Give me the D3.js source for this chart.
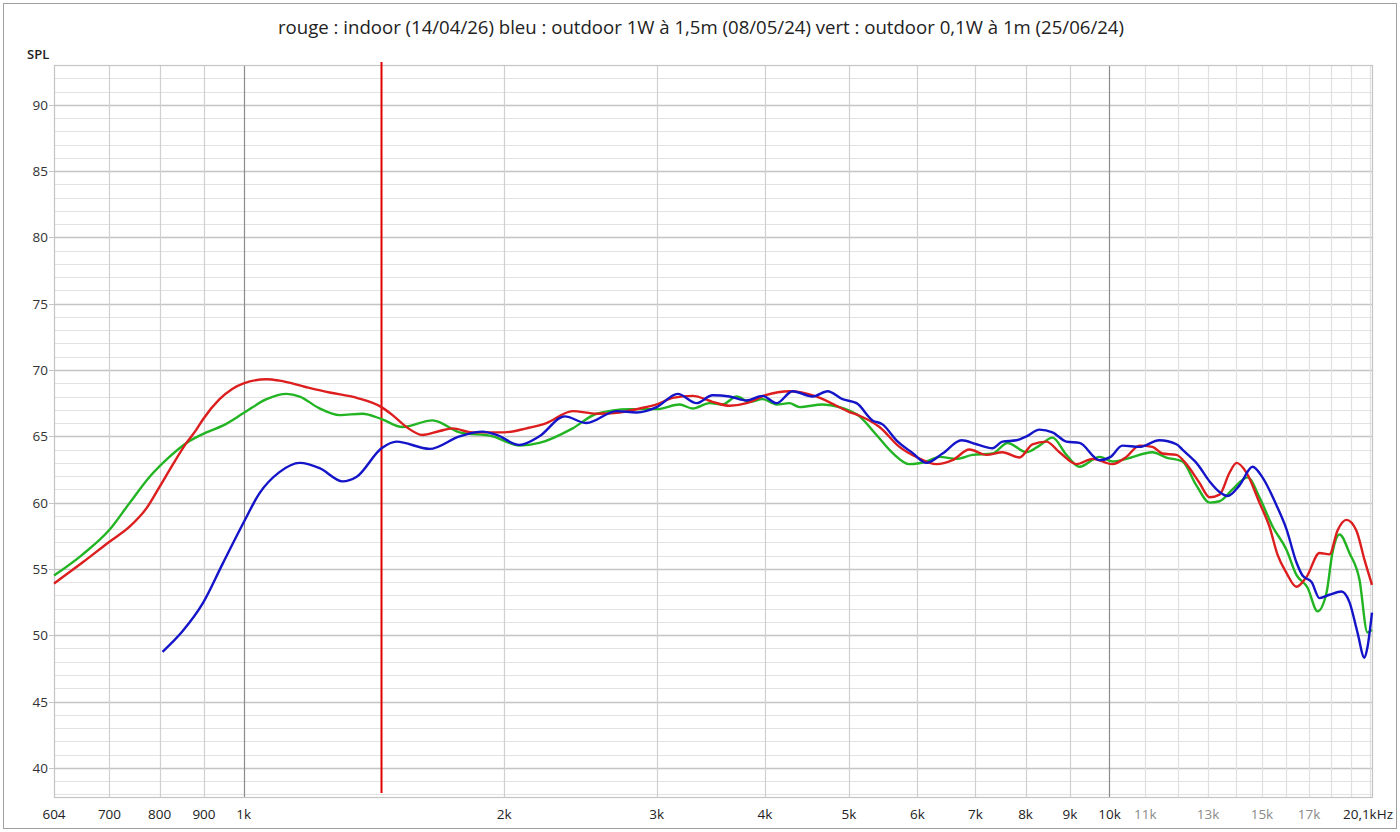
<!DOCTYPE html>
<html>
<head>
<meta charset="utf-8">
<script src="https://cdn.jsdelivr.net/npm/d3@7"></script>
<style>
  html, body { margin: 0; padding: 0; background: #fff; }
  svg { display: block; font-family: "Open Sans", "Noto Sans", sans-serif; }
</style>
</head>
<body>
<div class="vis-fr"></div>
<script>
// titre
const title = "rouge : indoor (14/04/26) bleu : outdoor 1W à 1,5m (08/05/24) vert : outdoor 0,1W à 1m (25/06/24)";

// [freq Hz, SPL dB]
const rouge = [
    [604, 53.9], [652, 55.5], [700, 57.05], [739, 58.2], [773, 59.6], [800, 61.2], [828, 62.85],
    [859, 64.5], [882, 65.5], [897, 66.25], [938, 67.8],
    [1000, 69.0], [1063, 69.3], [1100, 69.2], [1182, 68.7], [1257, 68.3], [1351, 67.9],
    [1443, 67.2], [1486, 66.6], [1542, 65.7], [1609, 65.1], [1684, 65.4], [1743, 65.6],
    [1838, 65.3], [2000, 65.3], [2122, 65.6], [2238, 66.0], [2399, 66.9], [2557, 66.7],
    [2718, 66.8], [2867, 67.1], [3000, 67.4], [3130, 67.9], [3300, 68.05], [3480, 67.6],
    [3641, 67.3], [3809, 67.5], [4007, 68.1], [4271, 68.4], [4589, 68.0], [5000, 66.85],
    [5144, 66.55], [5425, 65.7], [5721, 64.2], [6000, 63.4], [6313, 62.9], [6587, 63.2],
    [6892, 64.0], [7211, 63.6], [7524, 63.8], [7872, 63.4], [8148, 64.4], [8457, 64.6],
    [8755, 63.8], [9160, 62.9], [9559, 63.3], [10080, 62.9], [10460, 63.45], [10830, 64.3],
    [11210, 64.2], [11510, 63.7], [11950, 63.6], [12270, 62.9], [12700, 61.5], [13050, 60.4],
    [13400, 60.6], [13760, 62.25], [14020, 63.0], [14400, 62.25], [14900, 60.0], [15300, 58.2],
    [15630, 56.1], [16010, 54.7], [16440, 53.65], [16890, 54.4], [17480, 56.2], [17950, 56.1],
    [18340, 57.9], [18780, 58.7], [19280, 57.9], [19700, 55.7], [20100, 53.8]
];

const bleu = [
    [806, 48.75], [850, 50.3], [897, 52.4], [946, 55.4], [1000, 58.5], [1043, 60.7],
    [1100, 62.3], [1161, 63.0], [1224, 62.6], [1301, 61.6], [1351, 61.95], [1443, 64.1],
    [1502, 64.6], [1640, 64.05], [1776, 65.0], [1888, 65.35], [1960, 65.1], [2083, 64.35],
    [2196, 65.0], [2348, 66.5], [2489, 66.0], [2696, 66.9], [2844, 66.8], [3000, 67.2],
    [3172, 68.2], [3335, 67.5], [3480, 68.1], [3641, 68.0], [3809, 67.7], [3975, 68.05],
    [4126, 67.5], [4305, 68.4], [4540, 68.0], [4726, 68.4], [4917, 67.8], [5104, 67.5],
    [5325, 66.2], [5469, 65.9], [5675, 64.7], [5922, 63.75], [6148, 63.0], [6415, 63.7],
    [6747, 64.7], [7022, 64.4], [7327, 64.1], [7524, 64.6], [7809, 64.7], [8019, 65.0],
    [8301, 65.5], [8593, 65.3], [8919, 64.6], [9234, 64.5], [9739, 63.2], [10030, 63.45],
    [10350, 64.3], [10830, 64.2], [11420, 64.7], [11950, 64.4], [12140, 64.0], [12370, 63.5],
    [12600, 63.0], [13050, 61.6], [13400, 60.8], [13690, 60.5], [14130, 61.3], [14630, 62.7],
    [15020, 61.9], [15590, 59.8], [16010, 58.0], [16440, 55.5], [16710, 54.5], [17120, 54.0],
    [17480, 52.8], [17950, 53.05], [18530, 53.3], [18930, 52.5], [19340, 50.2], [19700, 48.3],
    [19860, 49.1], [20100, 51.7]
];

const vert = [
    [604, 54.5], [652, 56.1], [700, 57.95], [739, 60.0], [779, 61.95], [821, 63.45], [859, 64.5],
    [906, 65.3], [946, 65.8], [1000, 66.75], [1063, 67.8], [1121, 68.2], [1161, 68.0], [1224, 67.1],
    [1291, 66.6], [1372, 66.7], [1443, 66.3], [1526, 65.7], [1653, 66.2], [1776, 65.3],
    [1939, 65.0], [2083, 64.3], [2196, 64.5], [2399, 65.6], [2557, 66.7], [2791, 67.05],
    [3000, 67.05], [3188, 67.4], [3300, 67.1], [3452, 67.5], [3574, 67.4], [3710, 68.0],
    [3840, 67.6], [3975, 67.8], [4126, 67.4], [4271, 67.5], [4385, 67.2], [4663, 67.4],
    [4878, 67.2], [5144, 66.5], [5382, 65.1], [5616, 63.75], [5875, 62.9], [6148, 63.1],
    [6364, 63.45], [6658, 63.3], [6948, 63.6], [7327, 63.7], [7625, 64.5], [8019, 63.8],
    [8301, 64.3], [8593, 64.9], [8919, 63.6], [9234, 62.7], [9739, 63.45], [10080, 63.1],
    [10460, 63.3], [11210, 63.8], [11630, 63.4], [12140, 63.1], [12600, 61.3], [13050, 60.0],
    [13400, 60.1], [13870, 61.0], [14440, 61.9], [14900, 60.4], [15430, 58.2], [16010, 56.45],
    [16440, 54.55], [16930, 53.6], [17390, 51.8], [17810, 53.2], [18090, 56.2], [18440, 57.6],
    [18930, 56.2], [19440, 54.2], [19860, 50.2], [20100, 50.4]
];

// marqueur (coupure)
const marker = 1443;

// grille / graduations
const freqMin = 604, freqMax = 20100;
const splMin = 37.8, splMax = 93;
const gridFreqs = [700, 800, 900, 1000, 2000, 3000, 4000, 5000, 6000, 7000, 8000, 9000,
    10000, 11000, 12000, 13000, 14000, 15000, 16000, 17000, 18000, 19000, 20000];
const majorFreqs = [1000, 10000];
const xLabels = [
    [604, "604"], [700, "700"], [800, "800"], [900, "900"], [1000, "1k"], [2000, "2k"],
    [3000, "3k"], [4000, "4k"], [5000, "5k"], [6000, "6k"], [7000, "7k"], [8000, "8k"],
    [9000, "9k"], [10000, "10k"], [11000, "11k"], [13000, "13k"], [15000, "15k"], [17000, "17k"]
];
const yLabels = [40, 45, 50, 55, 60, 65, 70, 75, 80, 85, 90];

const W = 1400, H = 832;
const margin = {top: 65, right: 28, bottom: 35, left: 54};
const width = W - margin.left - margin.right;
const height = H - margin.top - margin.bottom;

const svg = d3.select('.vis-fr').append('svg')
    .attr('width', W)
    .attr('height', H);

// cadre extérieur
svg.append('rect')
    .attr('x', 3.5).attr('y', 3.5)
    .attr('width', W - 7).attr('height', H - 7)
    .attr('fill', '#fff')
    .attr('stroke', '#a0a0a0');

svg.append('text')
    .attr('x', 701)
    .attr('y', 34)
    .attr('text-anchor', 'middle')
    .attr('font-size', 18.6)
    .attr('fill', '#222')
    .text(title);

svg.append('text')
    .attr('x', 27)
    .attr('y', 59)
    .attr('font-size', 13)
    .attr('font-weight', 600)
    .attr('fill', '#222')
    .text('SPL');

const g = svg.append('g')
    .attr('transform', 'translate(' + margin.left + ',' + margin.top + ')');

let x = d3.scaleLog().domain([freqMin, freqMax]).range([0, width]);
let y = d3.scaleLinear().domain([splMin, splMax]).range([height, 0]);

// lignes horizontales, 1 dB
const dbLines = d3.range(Math.ceil(splMin), Math.floor(splMax) + 1);
g.selectAll('.hgrid')
    .data(dbLines)
    .enter().append('line')
    .attr('class', 'hgrid')
    .attr('x1', 0).attr('x2', width)
    .attr('y1', d => Math.round(y(d)) + 0.5)
    .attr('y2', d => Math.round(y(d)) + 0.5)
    .attr('stroke', d => d % 5 === 0 ? '#c4c4c4' : '#e2e2e2')
    .attr('stroke-width', d => d % 5 === 0 ? 1.5 : 1);

// lignes verticales
g.selectAll('.vgrid')
    .data(gridFreqs)
    .enter().append('line')
    .attr('class', 'vgrid')
    .attr('y1', 0).attr('y2', height)
    .attr('x1', d => Math.round(x(d)) + 0.5)
    .attr('x2', d => Math.round(x(d)) + 0.5)
    .attr('stroke', d => majorFreqs.includes(d) ? '#8c8c8c' : (d > 10000 ? '#e0e0e0' : '#d0d0d0'))
    .attr('stroke-width', 1.2);

// cadre du graphe
g.append('rect')
    .attr('x', 0.5).attr('y', 0.5)
    .attr('width', width).attr('height', height)
    .attr('fill', 'none')
    .attr('stroke', '#c4c4c4')
    .attr('stroke-width', 1.2);

// axe Y
const yAxis = g.append('g');
yAxis.selectAll('.ytick')
    .data(yLabels)
    .enter().append('line')
    .attr('x1', -5).attr('x2', 0)
    .attr('y1', d => Math.round(y(d)) + 0.5)
    .attr('y2', d => Math.round(y(d)) + 0.5)
    .attr('stroke', '#c4c4c4');
yAxis.selectAll('.ylab')
    .data(yLabels)
    .enter().append('text')
    .attr('x', -6)
    .attr('y', d => y(d) + 5)
    .attr('text-anchor', 'end')
    .attr('font-size', 13.5)
    .attr('fill', '#333')
    .text(d => d);

// axe X
g.selectAll('.xlab')
    .data(xLabels)
    .enter().append('text')
    .attr('x', d => x(d[0]))
    .attr('y', height + 22)
    .attr('text-anchor', 'middle')
    .attr('font-size', 13.5)
    .attr('fill', d => d[0] > 10000 ? '#8a8a8a' : '#222')
    .text(d => d[1]);

g.append('text')
    .attr('x', x(freqMax) + 21)
    .attr('y', height + 22)
    .attr('text-anchor', 'end')
    .attr('font-size', 13.5)
    .attr('fill', '#222')
    .text('20,1kHz');

// marqueur rouge
g.append('line')
    .attr('x1', x(marker)).attr('x2', x(marker))
    .attr('y1', -3).attr('y2', height - 4)
    .attr('stroke', '#e00000')
    .attr('stroke-width', 2);

// courbes
const line = d3.line()
    .x(d => x(d[0]))
    .y(d => y(d[1]))
    .curve(d3.curveMonotoneX);

const series = [
    {data: vert, color: '#22b422'},
    {data: rouge, color: '#dc1e1e'},
    {data: bleu, color: '#1414c8'}
];

g.selectAll('.courbe')
    .data(series)
    .enter().append('path')
    .attr('class', 'courbe')
    .attr('d', d => line(d.data))
    .attr('fill', 'none')
    .attr('stroke', d => d.color)
    .attr('stroke-width', 2.4)
    .attr('stroke-linejoin', 'round');
</script>
</body>
</html>
